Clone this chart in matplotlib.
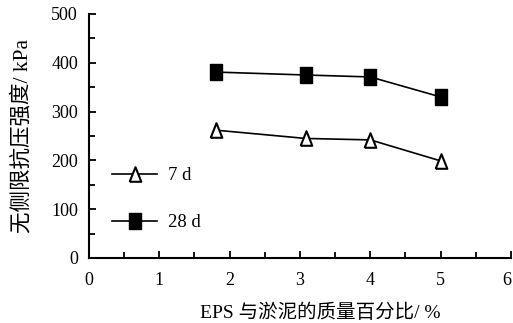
import matplotlib
matplotlib.use("Agg")
import matplotlib.pyplot as plt
from matplotlib.ticker import MultipleLocator

x_7d = [1.8, 3.08, 4.0, 5.0]
y_7d = [262, 245, 242, 199]
x_28d = [1.8, 3.08, 4.0, 5.0]
y_28d = [381, 375, 371, 330]
labels = ["7 d", "28 d"]
xticks = [0, 1, 2, 3, 4, 5, 6]
xtick_labels = ["0", "1", "2", "3", "4", "5", "6"]
yticks = [0, 100, 200, 300, 400, 500]
ytick_labels = ["0", "100", "200", "300", "400", "500"]
xlabel = "EPS 与淤泥的质量百分比/ %"
ylabel = "无侧限抗压强度/ kPa"

fam = ["Liberation Serif", "Noto Sans CJK SC"]
plt.rcParams['font.family'] = fam

W, H = 513, 323
fig = plt.figure(figsize=(W / 100, H / 100), dpi=100)
x0, x1, y0, y1 = 89, 511, 258, 14
ax = fig.add_axes([x0 / W, 1 - y0 / H, (x1 - x0) / W, (y0 - y1) / H])

sq = [(-0.375, -0.5), (0.375, -0.5), (0.375, 0.5), (-0.375, 0.5), (-0.375, -0.5)]
tri = [(-0.4, -0.5), (0.4, -0.5), (0.0, 0.5), (-0.4, -0.5)]

l1, = ax.plot(x_7d, y_7d, color='black', lw=1.2, marker=tri, ms=10.5,
              mfc='white', mec='black', mew=1.5)
l2, = ax.plot(x_28d, y_28d, color='black', lw=1.2, marker=sq, ms=11.5,
              mfc='black', mec='black', mew=1.0)

ax.set_xlim(0, 6)
ax.set_ylim(0, 500)
ax.set_xticks(xticks, xtick_labels)
ax.set_yticks(yticks, ytick_labels)
ax.xaxis.set_minor_locator(MultipleLocator(0.5))
ax.yaxis.set_minor_locator(MultipleLocator(50))
ax.tick_params(which='both', direction='in', width=1.3)
ax.tick_params(which='major', length=5, labelsize=13)
ax.tick_params(which='minor', length=4)
ax.tick_params(axis='x', which='major', pad=10)
ax.tick_params(axis='y', which='major', pad=8)
ax.get_xticklabels()[-1].set_ha('right')
for s in ['top', 'right']:
    ax.spines[s].set_visible(False)
for s in ['left', 'bottom']:
    ax.spines[s].set_linewidth(1.5)

ax.set_xlabel(xlabel, fontsize=14)
ax.xaxis.set_label_coords((320 - x0) / (x1 - x0), (y0 - 304) / (y0 - y1))
ax.set_ylabel(ylabel, fontsize=15.5)
ax.yaxis.label.set_va('center')
ax.yaxis.set_label_coords((22 - x0) / (x1 - x0), 0.5)

leg = ax.legend([l1, l2], labels, loc='upper left',
                bbox_to_anchor=((112 - x0) / (x1 - x0), (y0 - 167) / (y0 - y1)),
                frameon=False, handlelength=2.4, handletextpad=0.6,
                labelspacing=1.6, fontsize=13.5, borderpad=0, borderaxespad=0)

fig.savefig("out.png", dpi=100)
